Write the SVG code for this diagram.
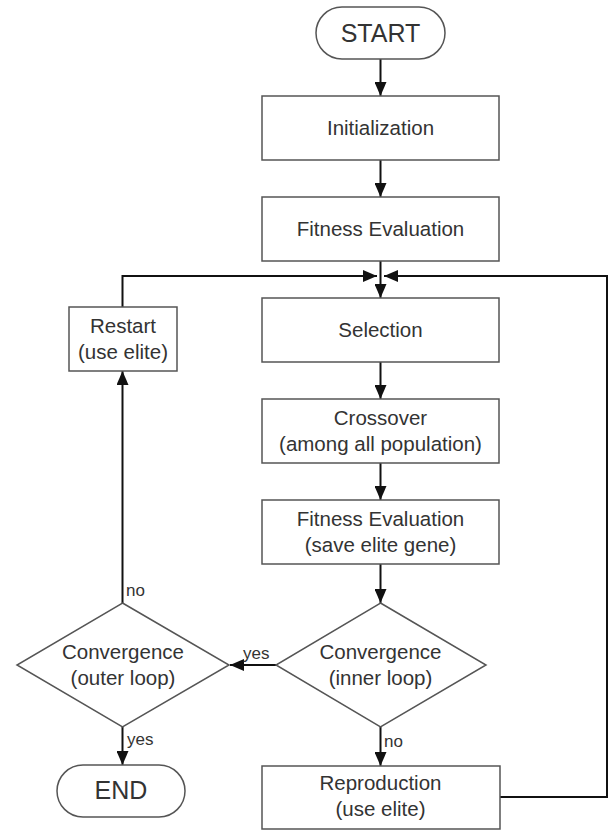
<svg xmlns="http://www.w3.org/2000/svg" width="614" height="830" viewBox="0 0 614 830">
<style>
.box{fill:#fff;stroke:#555;stroke-width:1.5}
.t{font-family:"Liberation Sans",Arial,sans-serif;font-size:20.5px;fill:#333;text-anchor:middle}
.big{font-size:25px}
.lbl{font-family:"Liberation Sans",Arial,sans-serif;font-size:17px;fill:#333}
.c{fill:none;stroke:#111;stroke-width:2}
</style>
<defs>
<marker id="ah" viewBox="0 0 14 12" refX="14" refY="6" markerWidth="14" markerHeight="12" markerUnits="userSpaceOnUse" orient="auto">
<path d="M0,0 L14,6 L0,12 z" fill="#111"/>
</marker>
</defs>
<rect width="614" height="830" fill="#fff"/>
<g id="connectors">
<path class="c" d="M380.5,59 V96" marker-end="url(#ah)"/>
<path class="c" d="M380.5,160 V197" marker-end="url(#ah)"/>
<path class="c" d="M380.5,261 V298" marker-end="url(#ah)"/>
<path class="c" d="M380.5,362 V399" marker-end="url(#ah)"/>
<path class="c" d="M380.5,463 V500" marker-end="url(#ah)"/>
<path class="c" d="M380.5,564 V603" marker-end="url(#ah)"/>
<path class="c" d="M276,665 H230" marker-end="url(#ah)"/>
<path class="c" d="M380.5,727 V766" marker-end="url(#ah)"/>
<path class="c" d="M122.5,603 V371" marker-end="url(#ah)"/>
<path class="c" d="M122.5,727 V765" marker-end="url(#ah)"/>
<path class="c" d="M122.5,307 V276 H377" marker-end="url(#ah)"/>
<path class="c" d="M500,797 H607 V276 H384" marker-end="url(#ah)"/>
</g>
<g id="start"><rect class="box" x="316" y="7" width="129" height="52" rx="26"/><text class="t big" x="380.5" y="42">START</text></g>
<g id="init"><rect class="box" x="262" y="96" width="237" height="64"/><text class="t" x="380.5" y="135">Initialization</text></g>
<g id="fit1"><rect class="box" x="262" y="197" width="237" height="64"/><text class="t" x="380.5" y="236">Fitness Evaluation</text></g>
<g id="sel"><rect class="box" x="262" y="298" width="237" height="64"/><text class="t" x="380.5" y="337">Selection</text></g>
<g id="cross"><rect class="box" x="262" y="399" width="237" height="64"/><text class="t" x="380.5" y="425">Crossover</text><text class="t" x="380.5" y="451">(among all population)</text></g>
<g id="fit2"><rect class="box" x="262" y="500" width="237" height="64"/><text class="t" x="380.5" y="526">Fitness Evaluation</text><text class="t" x="380.5" y="552">(save elite gene)</text></g>
<g id="inner"><polygon class="box" points="380.5,603 486,665 380.5,727 276,665"/><text class="t" x="380.5" y="659">Convergence</text><text class="t" x="380.5" y="685">(inner loop)</text></g>
<g id="outer"><polygon class="box" points="122.5,603 229,665 122.5,727 17,665"/><text class="t" x="123" y="659">Convergence</text><text class="t" x="123" y="685">(outer loop)</text></g>
<g id="restart"><rect class="box" x="69" y="307" width="108" height="64"/><text class="t" x="123" y="333">Restart</text><text class="t" x="123" y="359">(use elite)</text></g>
<g id="end"><rect class="box" x="57" y="765" width="128" height="52" rx="26"/><text class="t big" x="121" y="799">END</text></g>
<g id="repro"><rect class="box" x="262" y="766" width="238" height="63"/><text class="t" x="380.5" y="790">Reproduction</text><text class="t" x="380.5" y="816">(use elite)</text></g>
<g id="labels">
<text class="lbl" x="126" y="596">no</text>
<text class="lbl" x="243" y="659">yes</text>
<text class="lbl" x="127" y="745">yes</text>
<text class="lbl" x="384" y="747">no</text>
</g>
</svg>
